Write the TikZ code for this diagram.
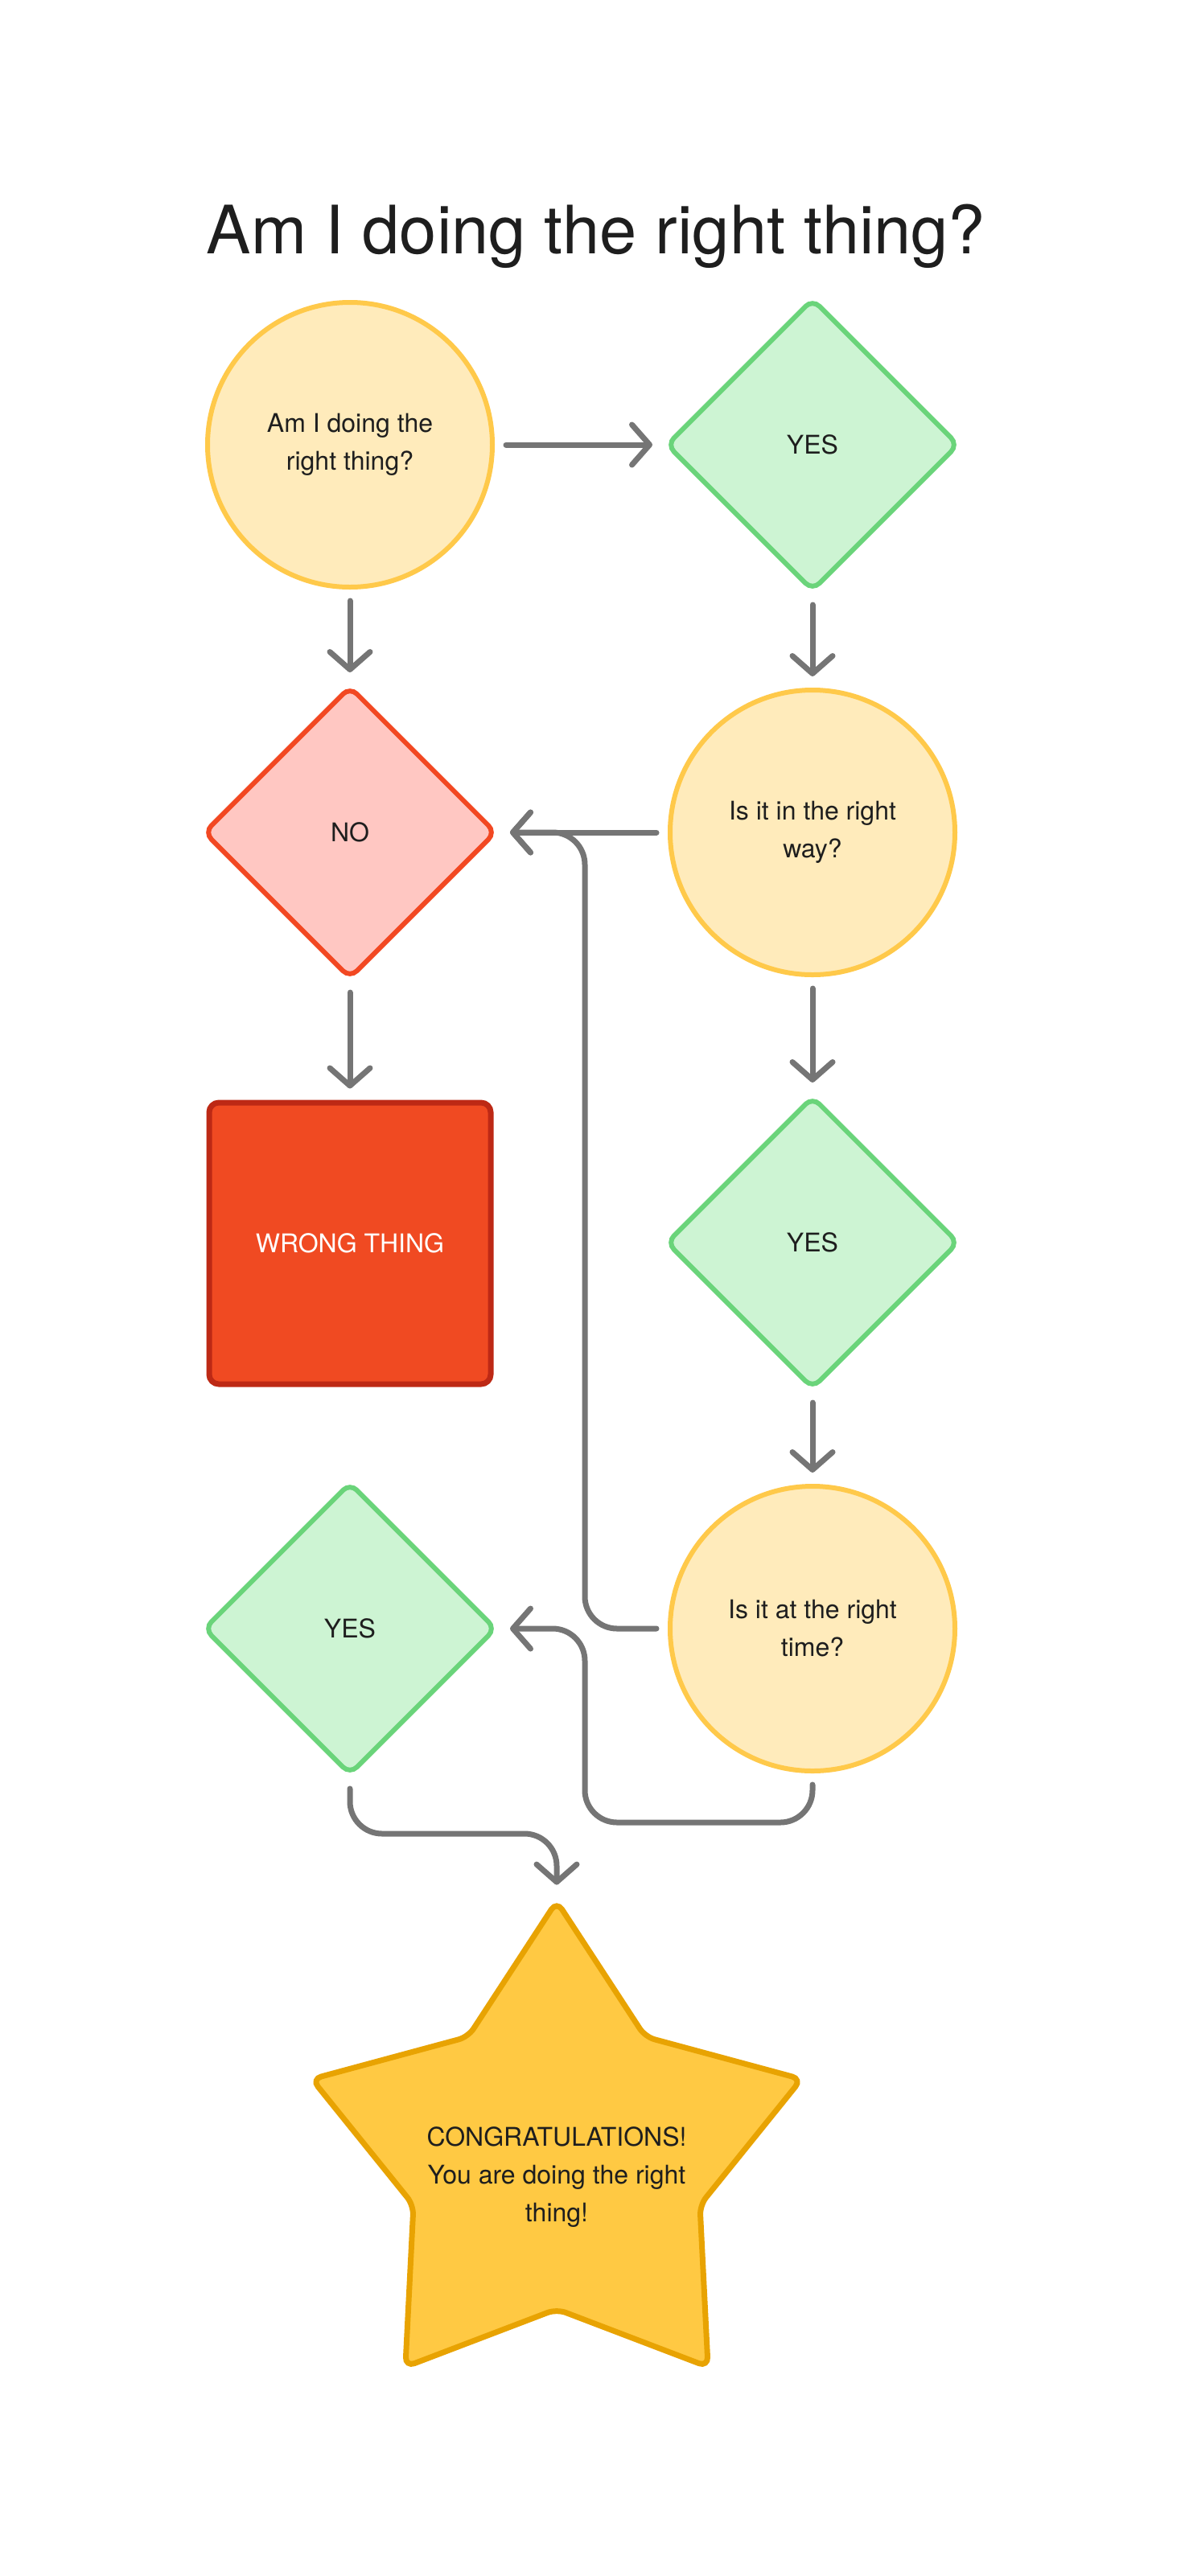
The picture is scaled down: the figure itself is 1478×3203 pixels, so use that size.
\documentclass[tikz,border=0pt]{standalone}
\usepackage{fontspec}
\setmainfont{TeX Gyre Heros}
\usetikzlibrary{shapes.geometric,arrows.meta}
\definecolor{txtc}{HTML}{1E1E1E}
\definecolor{yfill}{HTML}{FFEBBB}
\definecolor{ystroke}{HTML}{FFC94A}
\definecolor{gfill}{HTML}{CDF4D3}
\definecolor{gstroke}{HTML}{6AD47A}
\definecolor{rfill}{HTML}{FFC7C2}
\definecolor{rstroke}{HTML}{F24822}
\definecolor{wfill}{HTML}{F04A22}
\definecolor{wstroke}{HTML}{BD2915}
\definecolor{sfill}{HTML}{FFC943}
\definecolor{sstroke}{HTML}{E8A302}
\definecolor{conncol}{HTML}{757575}
\begin{document}
\begin{tikzpicture}[x=0.5pt,y=-0.5pt,
  base/.style={font=\fontsize{16}{23.5}\selectfont, text=txtc, align=center, inner sep=0pt},
  circ/.style={base, circle, minimum size=177pt, draw=ystroke, fill=yfill, line width=3pt},
  yesd/.style={base, diamond, aspect=1, minimum width=182pt, minimum height=182pt, draw=gstroke, fill=gfill, line width=3pt, rounded corners=6pt},
  nod/.style={base, diamond, aspect=1, minimum width=182pt, minimum height=182pt, draw=rstroke, fill=rfill, line width=3pt, rounded corners=6pt},
  wrongbox/.style={base, rectangle, minimum size=175pt, draw=wstroke, fill=wfill, line width=3.5pt, rounded corners=6pt, text=white},
  starshape/.style={star, star points=5, star point ratio=1.71, minimum size=320pt, inner sep=0pt, draw=sstroke, fill=sfill, line width=3.5pt, rounded corners=6pt},
  conn/.style={draw=conncol, line width=3.5pt, line cap=round, line join=round, -{Straight Barb[length=11pt,width=25pt,line cap=round,line join=round]}, shorten <=7pt, shorten >=7pt},
  roundpath/.style={rounded corners=20pt}
]
\useasboundingbox[fill=white] (0,0) rectangle (1478,3203);

\node[base, font=\fontsize{41.5}{49}\selectfont] (title) at (741,294) {Am I doing the right thing?};

\node[circ] (q1) at (435,553) {Am I doing the\\right thing?};
\node[yesd] (y1) at (1010,553) {YES};
\node[nod] (no) at (435,1035) {NO};
\node[circ] (q2) at (1010,1035) {Is it in the right\\way?};
\node[wrongbox] (wrong) at (435,1546) {WRONG THING};
\node[yesd] (y2) at (1010,1545) {YES};
\node[circ] (q3) at (1010,2025) {Is it at the right\\time?};
\node[yesd] (y3) at (435,2025) {YES};
\node[starshape] (star) at (692,2684) {};
\node[base] (startxt) at (692,2707) {CONGRATULATIONS!\\You are doing the right\\thing!};

\coordinate (busx) at (727,0);
\coordinate (busy) at (0,2266);
\coordinate (busz) at (0,2280);

\draw[conn] (q1.east) -- (y1.west);
\draw[conn] (q1.south) -- (no.north);
\draw[conn] (y1.south) -- (q2.north);
\draw[conn] (no.south) -- (wrong.north);
\draw[conn] (q2.west) -- (no.east);
\draw[conn] (q2.south) -- (y2.north);
\draw[conn] (y2.south) -- (q3.north);
\draw[conn, roundpath] (q3.west) -| (busx |- no.east) -- (no.east);
\draw[conn, roundpath] (q3.south) -- (q3.south |- busy) -| (busx |- y3.east) -- (y3.east);
\draw[conn, roundpath] (y3.south) -- (y3.south |- busz) -| (star.outer point 1);
\end{tikzpicture}
\end{document}
